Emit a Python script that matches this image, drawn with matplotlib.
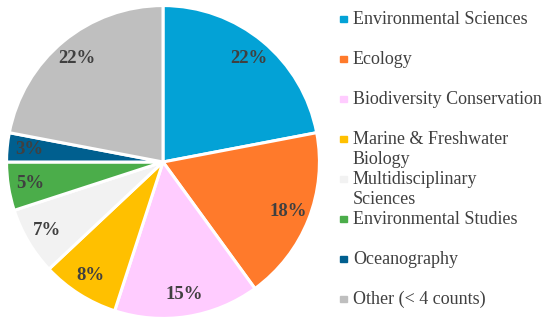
import matplotlib.pyplot as plt

labels = ["Environmental Sciences", "Ecology", "Biodiversity Conservation",
          "Marine & Freshwater\nBiology", "Multidisciplinary\nSciences",
          "Environmental Studies", "Oceanography", "Other (< 4 counts)"]
values = [22, 18, 15, 8, 7, 5, 3, 22]
colors = ["#03A2D6", "#FF7A2B", "#FFCCFF", "#FFC000", "#F2F2F2",
          "#4BAD4A", "#005F8F", "#BFBFBF"]

plt.rcParams['font.family'] = ['Liberation Serif', 'DejaVu Serif']

W, H = 550, 327
fig = plt.figure(figsize=(W / 100, H / 100), dpi=100)

# pie centre ~ (163,162) px, radius ~158 px
cx, cy, r = 163, 162, 158
ax = fig.add_axes([(cx - r) / W, (H - cy - r) / H, 2 * r / W, 2 * r / H])
wedges, texts, autotexts = ax.pie(
    values, colors=colors, startangle=90, counterclock=False,
    autopct=lambda p: f"{p:.0f}%", pctdistance=0.86,
    wedgeprops=dict(edgecolor="white", linewidth=2.2),
    textprops=dict(fontsize=13.5, fontweight="bold", color="#404040"))
ax.set_xlim(-1.01, 1.01)
ax.set_ylim(-1.01, 1.01)
ax.set_aspect("equal")
ax.axis("off")

# legend drawn by hand, one slot every 40 px, wrapped lines 21 px apart
for i, (lab, col) in enumerate(zip(labels, colors)):
    y = 19 + 40 * i
    fig.patches.append(plt.Rectangle((340 / W, 1 - (y + 3) / H), 6.5 / W, 6.5 / H,
                                     transform=fig.transFigure, color=col))
    for k, line in enumerate(lab.split("\n")):
        fig.text(353 / W, 1 - (y + 21 * k) / H, line, fontsize=13,
                 color="#404040", va="center", ha="left")

fig.savefig("out.png", dpi=100)
